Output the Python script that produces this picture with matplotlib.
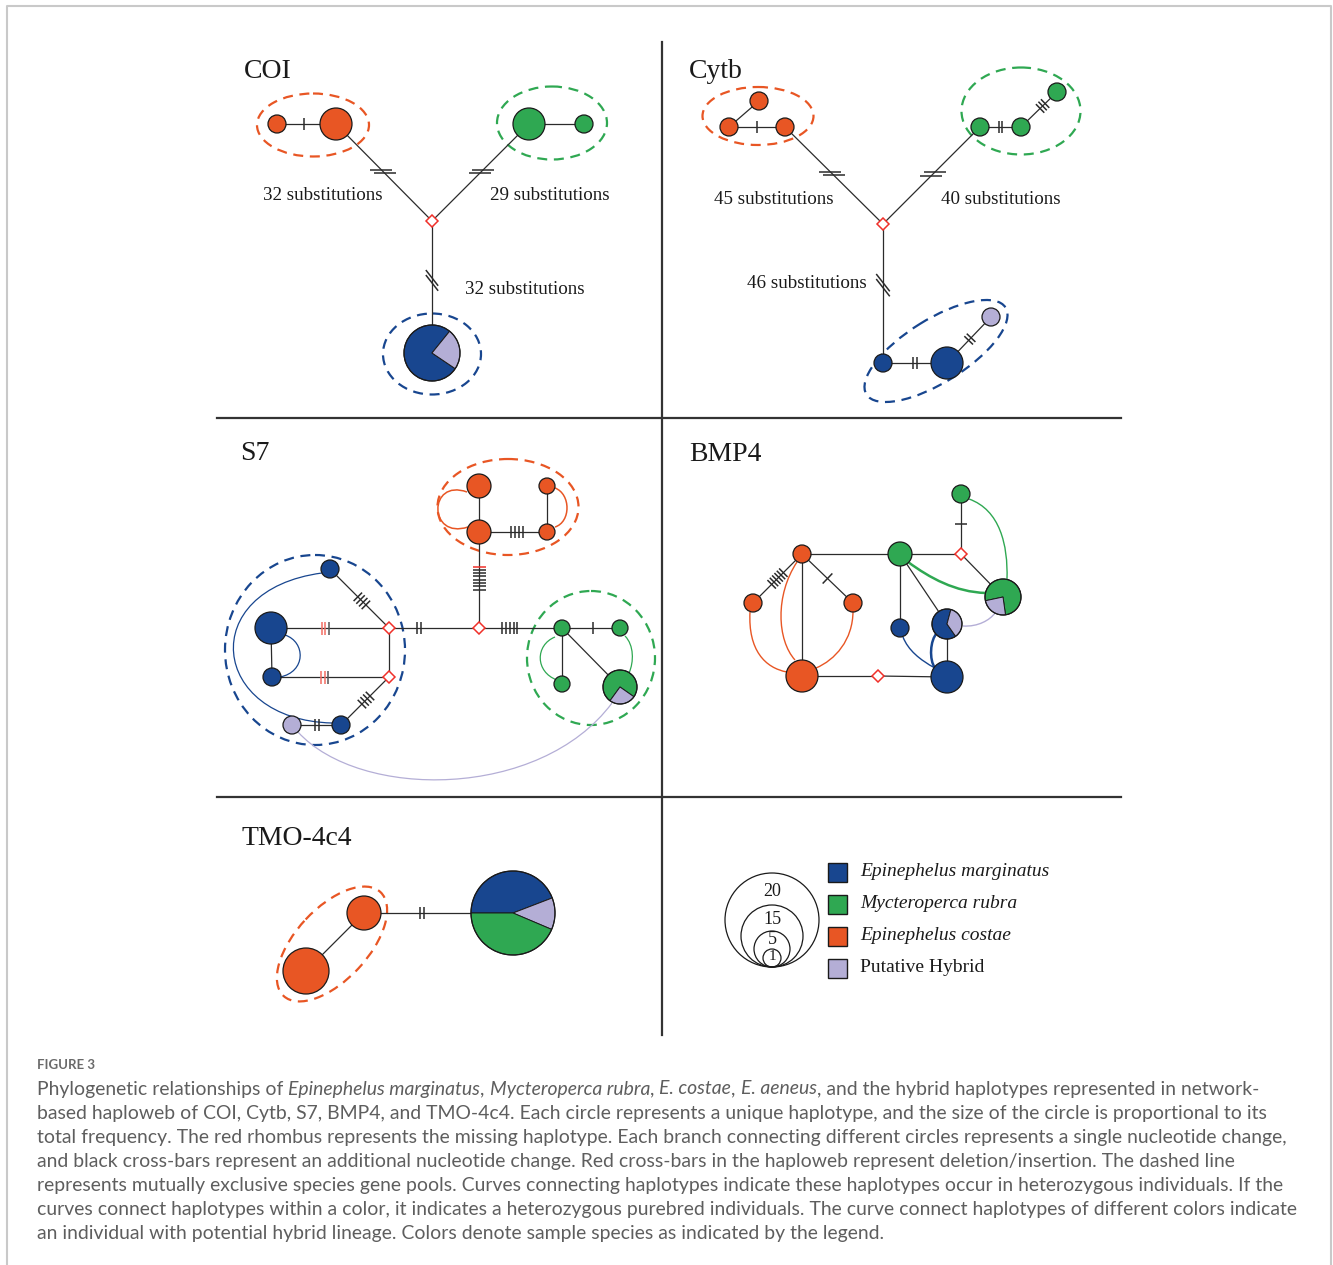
import numpy as np
import matplotlib
matplotlib.use("Agg")
import matplotlib.pyplot as plt
from matplotlib.patches import Circle, Wedge, Ellipse, PathPatch, Rectangle
from matplotlib.path import Path

W, H = 1333, 1265

BLUE = '#18468f'
GREEN = '#2fa852'
ORANGE = '#e85624'
PURPLE = '#b4aed6'
DIAM = '#f0302a'
LINE = '#2b2b2b'
SERIF = 'Liberation Serif'
CAP_FONT = 'Lato'

# ---- haplotype networks (pixel layout, y grows downward) ----
# node: (x, y, radius, fill) ; fill is a colour or a list of (colour, theta1, theta2)
# radius 0 marks a missing haplotype (red rhombus)
coi_nodes = {
    'c1': (277, 124, 9, ORANGE), 'c2': (336, 124, 16, ORANGE),
    'm1': (529, 124, 16, GREEN), 'm2': (584, 124, 9, GREEN),
    'x0': (432, 221, 0, None),
    'e1': (432, 353, 28, [(BLUE, 34, 309), (PURPLE, -51, 34)]),
}
# edge: (a, b, n_bars, position, bar_angle, bar_length, gap, bar_colours)
coi_edges = [
    ('c1', 'c2', 1, 0.46, None, 12, 4, None),
    ('c2', 'x0', 2, 0.49, 0, 22, 5.5, None),
    ('m1', 'm2', 0, 0, None, 0, 0, None),
    ('m1', 'x0', 2, 0.49, 0, 22, 5.5, None),
    ('x0', 'e1', 2, 0.45, 52, 20, 5, None),
]
coi_rings = [(313, 125, 112, 63, 0, ORANGE), (552, 123, 110, 73, 0, GREEN),
             (432, 354, 98, 81, 0, BLUE)]
coi_labels = [('32 substitutions', 263, 196), ('29 substitutions', 490, 196),
              ('32 substitutions', 465, 289)]

cytb_nodes = {
    'o1': (729, 127, 9, ORANGE), 'o2': (759, 101, 9, ORANGE), 'o3': (785, 127, 9, ORANGE),
    'g1': (980, 127, 9, GREEN), 'g2': (1021, 127, 9, GREEN), 'g3': (1057, 92, 9, GREEN),
    'x0': (883, 224, 0, None),
    'b1': (883, 363, 9, BLUE), 'b2': (947, 363, 16, BLUE), 'h1': (991, 317, 9, PURPLE),
}
cytb_edges = [
    ('o1', 'o2', 0, 0, None, 0, 0, None),
    ('o1', 'o3', 1, 0.5, None, 12, 4, None),
    ('o3', 'x0', 2, 0.48, 0, 22, 5.5, None),
    ('g1', 'x0', 2, 0.48, 0, 22, 5.5, None),
    ('g1', 'g2', 2, 0.5, None, 12, 3.5, None),
    ('g2', 'g3', 3, 0.6, None, 12, 3.5, None),
    ('x0', 'b1', 2, 0.44, 52, 22, 5, None),
    ('b1', 'b2', 2, 0.5, None, 12, 3.5, None),
    ('b2', 'h1', 2, 0.52, None, 12, 3.5, None),
]
cytb_rings = [(758, 116, 111, 58, 0, ORANGE), (1021, 111, 119, 87, 0, GREEN),
              (936, 351, 164, 63, -32, BLUE)]
cytb_labels = [('45 substitutions', 714, 200), ('40 substitutions', 941, 200),
               ('46 substitutions', 747, 283)]

s7_nodes = {
    'O1': (479, 486, 12, ORANGE), 'O2': (479, 532, 12, ORANGE),
    'O3': (547, 486, 8, ORANGE), 'O4': (547, 532, 8, ORANGE),
    'D1': (479, 628, 0, None), 'D2': (389, 628, 0, None), 'D3': (389, 677, 0, None),
    'G1': (562, 628, 8, GREEN), 'G2': (620, 628, 8, GREEN), 'G3': (562, 684, 8, GREEN),
    'G4': (620, 687, 17, [(GREEN, 126, 395), (PURPLE, 35, 126)]),
    'B1': (330, 569, 9, BLUE), 'B2': (271, 628, 16, BLUE), 'B3': (272, 677, 9, BLUE),
    'B4': (341, 725, 9, BLUE), 'P1': (292, 725, 9, PURPLE),
}
INDEL = ['#f26d63', '#f26d63', '#555555']
s7_edges = [
    ('O1', 'O2', 0, 0, None, 0, 0, None),
    ('O3', 'O4', 0, 0, None, 0, 0, None),
    ('O2', 'O4', 4, 0.56, None, 12, 3.8, None),
    ('O2', 'D1', 8, 0.48, None, 13, 3.3, [DIAM] + [LINE] * 7),
    ('D1', 'G1', 5, 0.37, None, 12, 3.8, None),
    ('G1', 'G2', 1, 0.53, None, 12, 4, None),
    ('G1', 'G3', 0, 0, None, 0, 0, None),
    ('G1', 'G4', 0, 0, None, 0, 0, None),
    ('D2', 'D1', 2, 0.33, None, 12, 4, None),
    ('D2', 'D3', 0, 0, None, 0, 0, None),
    ('B1', 'D2', 4, 0.54, None, 12, 3.8, None),
    ('B2', 'D2', 3, 0.46, None, 13, 3.5, INDEL),
    ('B2', 'B3', 0, 0, None, 0, 0, None),
    ('B3', 'D3', 3, 0.45, None, 13, 3.5, INDEL),
    ('D3', 'B4', 4, 0.48, None, 12, 3.8, None),
    ('P1', 'B4', 2, 0.5, None, 12, 4, None),
]
# heterozygote curves: (start, ctrl1, ctrl2, end, colour, width)
s7_curves = [
    ((467, 492), (428, 478), (428, 540), (468, 527), ORANGE, 1.1),
    ((555, 488), (571, 494), (571, 522), (555, 527), ORANGE, 1.1),
    ((555, 637), (535, 645), (535, 672), (557, 680), GREEN, 0.9),
    ((625, 636), (634, 645), (634, 662), (629, 673), GREEN, 0.9),
    ((285, 635), (306, 642), (306, 672), (280, 677), BLUE, 0.9),
    ((322, 573), (195, 590), (210, 720), (332, 723), BLUE, 0.9),
    ((298, 732), (360, 800), (540, 800), (612, 703), PURPLE, 0.9),
]
s7_rings = [(508, 507, 141, 96, 0, ORANGE), (591, 658, 128, 134, 0, GREEN),
            (315, 650, 180, 190, 0, BLUE)]

bmp4_nodes = {
    'R1': (802, 554, 9, ORANGE), 'R2': (753, 603, 9, ORANGE),
    'R3': (853, 603, 9, ORANGE), 'R4': (802, 676, 16, ORANGE),
    'X1': (878, 676, 0, None), 'X2': (961, 554, 0, None),
    'Gr1': (900, 554, 12, GREEN), 'Gr2': (961, 494, 9, GREEN),
    'Gr3': (1003, 597, 18, [(GREEN, 168, 442), (PURPLE, 82, 168)]),
    'Bl1': (900, 628, 9, BLUE),
    'BP': (947, 624, 15, [(BLUE, 55, 285), (PURPLE, -75, 55)]),
    'Bl2': (947, 677, 16, BLUE),
}
bmp4_edges = [
    ('R1', 'R2', 6, 0.5, None, 12, 3.3, None),
    ('R1', 'R3', 1, 0.5, None, 14, 4, None),
    ('R1', 'R4', 0, 0, None, 0, 0, None),
    ('R4', 'X1', 0, 0, None, 0, 0, None),
    ('X1', 'Bl2', 0, 0, None, 0, 0, None),
    ('R1', 'Gr1', 0, 0, None, 0, 0, None),
    ('Gr1', 'X2', 0, 0, None, 0, 0, None),
    ('X2', 'Gr2', 1, 0.5, None, 12, 4, None),
    ('X2', 'Gr3', 0, 0, None, 0, 0, None),
    ('Gr1', 'Bl1', 0, 0, None, 0, 0, None),
    ('Gr1', 'BP', 0, 0, None, 0, 0, None),
    ('BP', 'Bl2', 0, 0, None, 0, 0, None),
]
bmp4_curves = [
    ((750, 612), (748, 650), (765, 668), (787, 672), ORANGE, 1.0),
    ((797, 562), (775, 595), (777, 640), (795, 660), ORANGE, 1.0),
    ((853, 611), (853, 640), (835, 660), (816, 668), ORANGE, 1.0),
    ((908, 562), (930, 578), (955, 592), (986, 593), GREEN, 1.8),
    ((969, 499), (1000, 510), (1008, 545), (1007, 579), GREEN, 1.0),
    ((963, 626), (978, 627), (990, 620), (995, 613), PURPLE, 1.0),
    ((903, 637), (908, 650), (920, 660), (935, 668), BLUE, 1.0),
    ((937, 633), (930, 640), (929, 660), (935, 668), BLUE, 1.8),
]

tmo_nodes = {
    'T1': (364, 913, 17, ORANGE), 'T2': (306, 971, 23, ORANGE),
    'Tp': (513, 913, 42, [(BLUE, 180, 339), (PURPLE, -21, 23), (GREEN, 23, 180)]),
}
tmo_edges = [
    ('T1', 'T2', 0, 0, None, 0, 0, None),
    ('T1', 'Tp', 2, 0.39, None, 12, 4, None),
]
tmo_rings = [(332, 944, 142, 72, -47, ORANGE)]

panel_titles = ['COI', 'Cytb', 'S7', 'BMP4', 'TMO-4c4']
title_pos = [(244, 78), (689, 78), (240, 460), (689, 461), (242, 845)]

# ---- legend ----
size_values = ['20', '15', '5', '1']
size_radius = [47, 31, 18, 9]
size_label_y = [892, 919, 940, 957]
species = ['Epinephelus marginatus', 'Mycteroperca rubra', 'Epinephelus costae',
           'Putative Hybrid']
species_colors = [BLUE, GREEN, ORANGE, PURPLE]
species_italic = [True, True, True, False]
species_y = [872, 904, 936, 968]

# ---- caption ----
caption_lines = [
    [('Phylogenetic relationships of ', 0), ('Epinephelus marginatus', 1), (', ', 0),
     ('Mycteroperca rubra', 1), (', ', 0), ('E. costae', 1), (', ', 0), ('E. aeneus', 1),
     (', and the hybrid haplotypes represented in network-', 0)],
    [('based haploweb of COI, Cytb, S7, BMP4, and TMO-4c4. Each circle represents a unique '
      'haplotype, and the size of the circle is proportional to its', 0)],
    [('total frequency. The red rhombus represents the missing haplotype. Each branch connecting '
      'different circles represents a single nucleotide change,', 0)],
    [('and black cross-bars represent an additional nucleotide change. Red cross-bars in the '
      'haploweb represent deletion/insertion. The dashed line', 0)],
    [('represents mutually exclusive species gene pools. Curves connecting haplotypes indicate '
      'these haplotypes occur in heterozygous individuals. If the', 0)],
    [('curves connect haplotypes within a color, it indicates a heterozygous purebred individuals. '
      'The curve connect haplotypes of different colors indicate', 0)],
    [('an individual with potential hybrid lineage. Colors denote sample species as indicated '
      'by the legend.', 0)],
]


def draw_node(ax, x, y, r, fill):
    if r == 0:
        ax.plot(x, y, marker='D', ms=6.6, mfc='white', mec=DIAM, mew=1.1, zorder=6)
    elif isinstance(fill, str):
        ax.add_patch(Circle((x, y), r, facecolor=fill, edgecolor='#1a1a1a', lw=0.9, zorder=4))
    else:
        for color, a1, a2 in fill:
            ax.add_patch(Wedge((x, y), r, a1, a2, facecolor=color, edgecolor='#1a1a1a',
                               lw=0.7, zorder=4))
        ax.add_patch(Circle((x, y), r, fill=False, edgecolor='#1a1a1a', lw=0.9, zorder=5))


def draw_bars(ax, p, q, n, t, angle, length, gap, colors):
    p = np.array(p, float)
    q = np.array(q, float)
    d = (q - p) / np.linalg.norm(q - p)
    if angle is None:
        u = np.array([-d[1], d[0]])
    else:
        u = np.array([np.cos(np.radians(angle)), np.sin(np.radians(angle))])
    c = p + t * (q - p)
    for k in range(n):
        m = c + (k - (n - 1) / 2) * gap * d
        col = colors[k] if colors else LINE
        a = m - u * length / 2
        b = m + u * length / 2
        ax.plot([a[0], b[0]], [a[1], b[1]], color=col, lw=1.1, zorder=3,
                solid_capstyle='butt')


def draw_network(ax, nodes, edges, curves=(), rings=()):
    for cx, cy, w, h, ang, col in rings:
        ax.add_patch(Ellipse((cx, cy), w, h, angle=ang, fill=False, edgecolor=col, lw=1.6,
                             linestyle=(0, (4.5, 3)), zorder=1))
    for a, b, n, t, ang, length, gap, cols in edges:
        xa, ya = nodes[a][:2]
        xb, yb = nodes[b][:2]
        ax.plot([xa, xb], [ya, yb], color=LINE, lw=0.9, zorder=2)
        if n:
            draw_bars(ax, (xa, ya), (xb, yb), n, t, ang, length, gap, cols)
    for p0, p1, p2, p3, col, lw in curves:
        path = Path([p0, p1, p2, p3], [Path.MOVETO, Path.CURVE4, Path.CURVE4, Path.CURVE4])
        ax.add_patch(PathPatch(path, fill=False, edgecolor=col, lw=lw, zorder=1.5))
    for x, y, r, fill in nodes.values():
        draw_node(ax, x, y, r, fill)


fig = plt.figure(figsize=(W / 100, H / 100), dpi=100)
ax = fig.add_axes([0, 0, 1, 1])
ax.set_xlim(0, W)
ax.set_ylim(H, 0)
ax.axis('off')

# outer frame (open at the bottom)
ax.plot([7, 7, 1331, 1331], [H, 6, 6, H], color='#c9c9c9', lw=1.5)

# panel dividers
ax.plot([662, 662], [42, 1035], color='#333333', lw=1.6)
ax.plot([217, 1121], [418, 418], color='#333333', lw=1.6)
ax.plot([217, 1121], [797, 797], color='#333333', lw=1.6)

for name, (tx, ty) in zip(panel_titles, title_pos):
    ax.text(tx, ty, name, fontsize=20, family=SERIF, color='#1a1a1a', va='baseline')

draw_network(ax, coi_nodes, coi_edges, rings=coi_rings)
draw_network(ax, cytb_nodes, cytb_edges, rings=cytb_rings)
draw_network(ax, s7_nodes, s7_edges, s7_curves, s7_rings)
draw_network(ax, bmp4_nodes, bmp4_edges, bmp4_curves)
draw_network(ax, tmo_nodes, tmo_edges, rings=tmo_rings)

for txt, x, y in coi_labels + cytb_labels:
    ax.text(x, y, txt, fontsize=13.7, family=SERIF, color='#1a1a1a', va='center')

# size legend: nested circles tangent at the bottom
base_x, base_y = 772, 967
for r in size_radius:
    ax.add_patch(Circle((base_x, base_y - r), r, fill=False, edgecolor='#1a1a1a', lw=0.9))
for v, y in zip(size_values, size_label_y):
    ax.text(base_x, y, v, fontsize=13 if v != '1' else 11, family=SERIF, ha='center',
            va='center', color='#1a1a1a')

for lab, col, it, y in zip(species, species_colors, species_italic, species_y):
    ax.add_patch(Rectangle((828, y - 9.5), 19, 19, facecolor=col, edgecolor='#1a1a1a',
                           lw=1.0))
    ax.text(860, y, lab, fontsize=14, family=SERIF, style='italic' if it else 'normal',
            va='center', color='#1a1a1a')

# caption
CAP = '#5e5e5e'
ax.text(37, 1065, 'FIGURE 3', fontsize=9.5, family=CAP_FONT, weight='bold',
        color='#6a6a6a', va='center')

renderer = fig.canvas.get_renderer()


def seg_width(s, size, italic):
    st = 'italic' if italic else 'normal'
    bar = ax.text(0, 0, s + '|', fontsize=size, family=CAP_FONT, style=st)
    ref = ax.text(0, 0, '|', fontsize=size, family=CAP_FONT, style=st)
    w = bar.get_window_extent(renderer).width - ref.get_window_extent(renderer).width
    bar.remove()
    ref.remove()
    return w


def line_width(line, size):
    return sum(seg_width(s, size, it) for s, it in line)


# scale the caption font so the longest line spans the text block
cap_size = 10 * 1259 / max(line_width(line, 10) for line in caption_lines)

for i, line in enumerate(caption_lines):
    x = 37
    y = 1089 + 24 * i
    for s, it in line:
        ax.text(x, y, s, fontsize=cap_size, family=CAP_FONT, color=CAP, va='center',
                style='italic' if it else 'normal')
        x += seg_width(s, cap_size, it)

fig.savefig('out.png', dpi=100)
